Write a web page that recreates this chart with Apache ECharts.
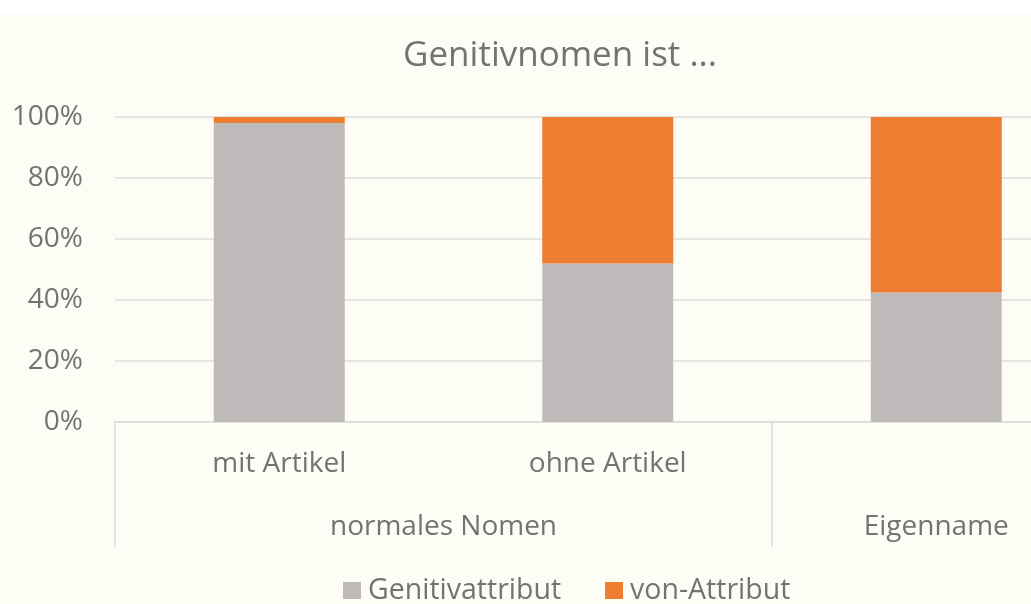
<!DOCTYPE html>
<html>
<head>
<meta charset="utf-8">
<script src="https://cdn.jsdelivr.net/npm/echarts@6/dist/echarts.min.js"></script>
<style>
  html, body { margin: 0; padding: 0; background: #ffffff; overflow: hidden; }
  /* the reference is cut off on the right, so the chart is wider than the window */
  #chart { position: absolute; left: 0; top: 14px; width: 1110px; height: 590px; }
</style>
</head>
<body>
<div id="chart"></div>
<script>
  // categories, lower level and upper level of the axis
  var categories = ['mit Artikel', 'ohne Artikel', 'Eigenname'];
  var catLabels = ['mit Artikel', 'ohne Artikel', ''];
  var groups = ['normales Nomen', 'Eigenname'];
  var groupSpan = [2, 1];

  // shares in percent
  var genitivattribut = [98, 52, 42.5];
  var vonAttribut = [2, 48, 57.5];

  var yTicks = [0, 20, 40, 60, 80, 100];

  var textColor = '#737373';
  var lineColor = '#dcdcdc';
  var font = 'Open Sans';

  // centres of the upper level groups, in category units
  var groupCenters = {};
  var start = 0;
  groupSpan.forEach(function (n, i) {
    groupCenters[String(start + n / 2)] = groups[i];
    start += n;
  });
  // tick positions (category index) where a group begins
  var groupStarts = [];
  start = 0;
  groupSpan.forEach(function (n) { groupStarts.push(start); start += n; });

  var myChart = echarts.init(document.getElementById('chart'));
  var option = {
    backgroundColor: '#fdfdf6',
    title: {
      text: 'Genitivnomen ist ...',
      left: 560,
      top: 25,
      padding: 0,
      textAlign: 'center',
      textStyle: { fontFamily: font, fontSize: 35, fontWeight: 'normal', color: textColor }
    },
    legend: {
      data: ['Genitivattribut', 'von-Attribut'],
      left: 343,
      top: 562,
      padding: 0,
      icon: 'rect',
      itemWidth: 18,
      itemHeight: 17,
      itemGap: 44,
      textStyle: { fontFamily: font, fontSize: 28.5, color: textColor, padding: [0, 0, 0, 2] }
    },
    grid: { left: 115, top: 103, height: 305, width: 985.5 },
    xAxis: [{
      type: 'category',
      data: categories,
      axisLine: { lineStyle: { color: lineColor, width: 1.5 } },
      axisTick: {
        show: true,
        length: 125,
        interval: function (index) { return groupStarts.indexOf(index) >= 0; },
        lineStyle: { color: lineColor, width: 1.5 }
      },
      axisLabel: {
        interval: 0,
        margin: 28,
        fontFamily: font,
        fontSize: 28,
        color: textColor,
        formatter: function (v, i) { return catLabels[i]; }
      }
    }, {
      type: 'value',
      position: 'bottom',
      min: 0,
      max: categories.length,
      interval: 0.5,
      axisLine: { show: false },
      axisTick: { show: false },
      splitLine: { show: false },
      axisLabel: {
        margin: 91,
        fontFamily: font,
        fontSize: 28,
        color: textColor,
        formatter: function (v) { return groupCenters[String(v)] || ''; }
      }
    }],
    yAxis: {
      type: 'value',
      min: yTicks[0],
      max: yTicks[yTicks.length - 1],
      interval: yTicks[1] - yTicks[0],
      axisLine: { show: false },
      axisTick: { show: false },
      splitLine: { lineStyle: { color: lineColor, width: 1.5 } },
      axisLabel: {
        margin: 32,
        fontFamily: font,
        fontSize: 28,
        color: textColor,
        formatter: '{value}%'
      }
    },
    series: [{
      name: 'Genitivattribut',
      type: 'bar',
      stack: 'all',
      barWidth: 131,
      data: genitivattribut,
      itemStyle: { color: '#bfbbba' }
    }, {
      name: 'von-Attribut',
      type: 'bar',
      stack: 'all',
      barWidth: 131,
      data: vonAttribut,
      itemStyle: { color: '#ed7d31' }
    }]
  };
  myChart.setOption(option);
</script>
</body>
</html>
